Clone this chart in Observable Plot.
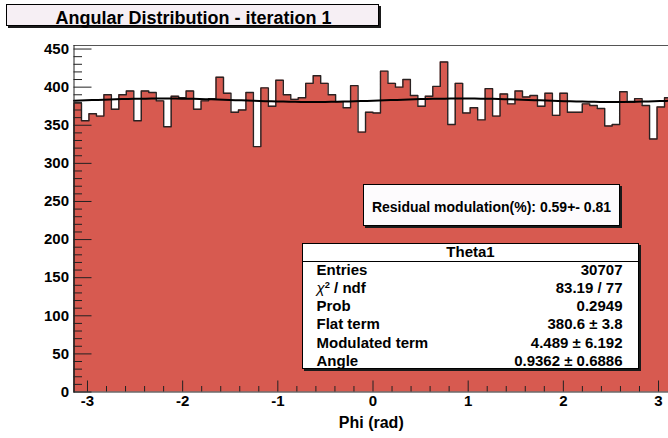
<!DOCTYPE html>
<html>
<head>
<meta charset="utf-8">
<title>Angular Distribution - iteration 1</title>
<script src="https://cdn.jsdelivr.net/npm/d3@7"></script>
<script src="https://cdn.jsdelivr.net/npm/@observablehq/plot@0.6"></script>
<style>
  html, body { margin: 0; padding: 0; background: #fff; }
  #chart {
    position: relative; width: 668px; height: 438px; overflow: hidden;
    font-family: "Liberation Sans", Arial, Helvetica, sans-serif; font-weight: bold; color: #000;
  }
  #chart svg { position: absolute; left: 0; top: 0; }
  .box { position: absolute; box-sizing: border-box; border: 1px solid #000; box-shadow: 2px 2px 0 #1a1a1a; }
  .t { position: absolute; white-space: nowrap; line-height: 1; }
  .sup { position: relative; top: -0.5em; font-size: 0.62em; }
  .greek { font-weight: normal; font-style: italic; }
</style>
</head>
<body>
<div id="chart"></div>
<script>
// Histogram of the azimuthal angle Phi: 80 bins over [-pi, pi]
const binCounts = [
  379, 356, 365, 362, 390, 371, 390, 395, 356, 395,
  393, 382, 348, 388, 386, 395, 371, 382, 385, 413,
  392, 367, 370, 393, 322, 399, 375, 409, 390, 384,
  386, 405, 415, 405, 390, 381, 373, 402, 341, 367,
  366, 421, 405, 400, 410, 389, 375, 388, 401, 433,
  351, 405, 366, 373, 357, 398, 362, 391, 378, 395,
  387, 389, 375, 392, 363, 392, 367, 367, 378, 376,
  372, 349, 351, 394, 380, 385, 376, 332, 374, 386
];

// Fit result: flat term + modulated term * cos^2(phi - angle)
const fitFlat = 380.6;
const fitModulated = 4.489;
const fitAngle = 0.9362;

// Axis ticks
const yMajorTicks = [0, 50, 100, 150, 200, 250, 300, 350, 400, 450];
const yMinorTicks = d3.range(0, 451, 10).filter(v => v % 50 !== 0);
const xMajorTicks = [-3, -2, -1, 0, 1, 2, 3];
const xMinorTicks = d3.range(-15, 16).map(k => k / 5).filter(v => Math.abs(v - Math.round(v)) > 1e-9);

// Text panels
const titleText = "Angular Distribution - iteration 1";
const residualText = "Residual modulation(%): 0.59+- 0.81";
const statTitle = "Theta1";
const statLabels = ["Entries", "chi2 / ndf", "Prob", "Flat term", "Modulated term", "Angle"];
const statValues = ["30707", "83.19 / 77", "0.2949", "380.6 \u00b1 3.8", "4.489 \u00b1 6.192", "0.9362 \u00b1 0.6886"];
const xLabel = "Phi (rad)";

const W = 668, H = 438;
const nBins = binCounts.length;
const binWidth = 2 * Math.PI / nBins;

// Stepped outline points (left and right edge of each bin)
const steps = binCounts.flatMap((n, i) => [
  {phi: -Math.PI + i * binWidth, n},
  {phi: -Math.PI + (i + 1) * binWidth, n}
]);
const outline = [{phi: -Math.PI, n: 0}, ...steps];

// Fit function sampled across the range
const fitPoints = d3.range(101).map(i => {
  const phi = -Math.PI + i * 2 * Math.PI / 100;
  return {phi, n: fitFlat + fitModulated * Math.cos(phi - fitAngle) ** 2};
});

const yTop = 1.05 * d3.max(binCounts);
const mTop = 45, mBottom = 46.5, mLeft = 73.5, mRight = 0;
const frameW = W - mLeft - mRight;
const frameH = H - mTop - mBottom;
const fill = "#d75a50";
const ink = "#2a2222";

const plot = Plot.plot({
  width: W,
  height: H,
  marginTop: mTop,
  marginBottom: mBottom,
  marginLeft: mLeft,
  marginRight: mRight,
  style: {
    background: "transparent",
    fontFamily: "'Liberation Sans', Arial, Helvetica, sans-serif",
    fontSize: "15px",
    fontWeight: "bold",
    color: "#000"
  },
  x: {domain: [-Math.PI, Math.PI], range: [73.5, 671.5]},
  y: {domain: [0, yTop]},
  marks: [
    Plot.area(steps, {x1: "phi", y1: 0, y2: "n", fill, curve: "linear"}),
    Plot.line(outline, {x: "phi", y: "n", stroke: ink, strokeWidth: 1.4}),
    Plot.line(fitPoints, {x: "phi", y: "n", stroke: "#000", strokeWidth: 2}),
    // ticks drawn inside the frame
    Plot.tickY(yMajorTicks, {y: d => d, stroke: "#222", strokeWidth: 1, insetRight: frameW - 18}),
    Plot.tickY(yMinorTicks, {y: d => d, stroke: "#222", strokeWidth: 1, insetRight: frameW - 8.5}),
    Plot.tickX(xMajorTicks, {x: d => d, stroke: "#222", strokeWidth: 1, insetTop: frameH - 11}),
    Plot.tickX(xMinorTicks, {x: d => d, stroke: "#222", strokeWidth: 1, insetTop: frameH - 5.5}),
    // frame
    Plot.ruleY([yTop], {stroke: "#555", strokeWidth: 1}),
    Plot.ruleY([0], {stroke: "#222", strokeWidth: 1}),
    Plot.ruleX([-Math.PI], {stroke: "#222", strokeWidth: 1}),
    // axis labels
    Plot.axisY({ticks: yMajorTicks, tickSize: 0, tickPadding: 5, tickFormat: d => String(d), label: null}),
    Plot.axisX({ticks: xMajorTicks, tickSize: 0, tickPadding: 3, tickFormat: d => String(d), label: null}),
    Plot.text([xLabel], {text: d => d, frameAnchor: "bottom", dy: 36, fontSize: 16})
  ]
});

const chart = document.getElementById("chart");
chart.appendChild(plot);

function box(left, top, width, height, bg) {
  const el = document.createElement("div");
  el.className = "box";
  Object.assign(el.style, {left: left + "px", top: top + "px", width: width + "px", height: height + "px", background: bg});
  chart.appendChild(el);
  return el;
}

// Place a text so that its baseline sits at `base`
function text(content, x, base, size, align) {
  const el = document.createElement("div");
  el.className = "t";
  if (content instanceof Node) el.appendChild(content); else el.textContent = content;
  el.style.fontSize = size + "px";
  el.style.top = (base - 0.8465 * size) + "px";
  if (align === "start") el.style.left = x + "px";
  else if (align === "end") el.style.right = (W - x) + "px";
  else { el.style.left = x + "px"; el.style.transform = "translateX(-50%)"; }
  chart.appendChild(el);
  return el;
}

function chiLabel() {
  const frag = document.createDocumentFragment();
  const chi = document.createElement("span");
  chi.className = "greek"; chi.textContent = "\u03c7";
  const sup = document.createElement("span");
  sup.className = "sup"; sup.textContent = "2";
  frag.append(chi, sup, document.createTextNode(" / ndf"));
  return frag;
}

// Title panel
box(6, 4, 373, 22, "#f6eff4");
text(titleText, 193.5, 24, 18, "middle");

// Residual modulation panel
box(363, 184, 257, 42, "#fdfbfd");
text(residualText, 491.5, 211.5, 14, "middle");

// Statistics panel
box(302, 243, 337, 126, "#ffffff");
const sep = document.createElement("div");
Object.assign(sep.style, {position: "absolute", left: "302px", top: "261px", width: "337px", height: "0", borderTop: "1px solid #000"});
chart.appendChild(sep);
text(statTitle, 470.5, 257, 15, "middle");
const rowBase = [274.5, 292.7, 310.9, 329.1, 347.3, 365.5];
statLabels.forEach((label, i) => {
  text(label === "chi2 / ndf" ? chiLabel() : label, 316.5, rowBase[i], 15, "start");
  text(statValues[i], 622.5, rowBase[i], 15, "end");
});
</script>
</body>
</html>
